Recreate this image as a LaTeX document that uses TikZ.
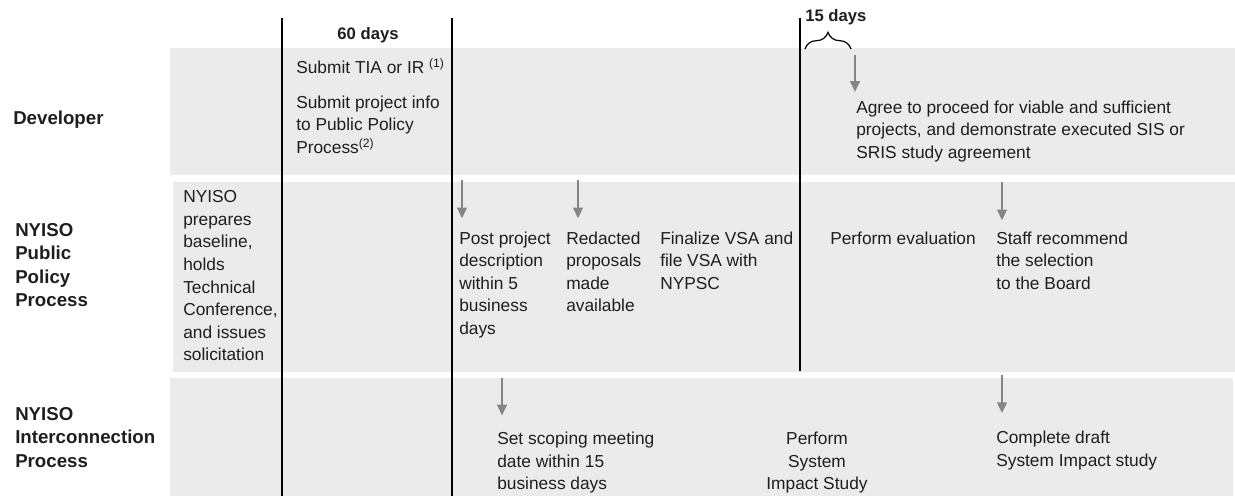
\documentclass[tikz,border=0pt]{standalone}
\usepackage{fontspec}
\setmainfont{Liberation Sans}
\usetikzlibrary{arrows.meta,decorations.pathreplacing}

\definecolor{bandgray}{HTML}{EBEBEB}
\definecolor{ink}{HTML}{1E1E1E}
\definecolor{flowgray}{HTML}{858585}

\begin{document}
\begin{tikzpicture}[
            x = 0.75pt, y = -0.75pt,
            every node/.style={inner sep=0pt, text=ink, align=left, font=\fontsize{13}{16.9}\selectfont},
            txt/.style={anchor=north west},
            lane/.style={anchor=north west, font=\bfseries\fontsize{14}{17.6}\selectfont},
            span/.style={font=\bfseries\fontsize{12.5}{15}\selectfont},
            band/.style={fill=bandgray},
            divider/.style={line width = 1.5pt},
            flow/.style={draw=flowgray, line width = 1.1pt, shorten >=10pt, -{Triangle[width=7.5pt, length=8pt]}},
            brace/.style={decorate, decoration={brace, amplitude=12.5pt}, line width = 0.9pt},
            ]
        \useasboundingbox (0, 0) rectangle (1235, 496);

        \fill[band] (170, 48) rectangle (1235, 175);
        \fill[band] (173, 182) rectangle (1235, 372);
        \fill[band] (170, 378) rectangle (1233, 496);

        \draw[divider] (282, 18) -- (282, 496);
        \draw[divider] (452, 18) -- (452, 496);
        \draw[divider] (800, 18) -- (800, 371);

        \node[lane] (dev) at (13, 111) {Developer};
        \node[lane] (pp) at (15, 223) {NYISO\\Public\\Policy\\Process};
        \node[lane] (ic) at (15, 407) {NYISO\\Interconnection\\Process};

        \node[span] (d60) at (368, 35) {60 days};
        \node[span, anchor=west] (d15) at (805, 17) {15 days};
        \draw[brace] (805, 49) -- (851, 49);

        \node[anchor=base west] (tia) at (296, 73) {Submit TIA or IR \textsuperscript{(1)}};
        \node[txt] (info) at (296, 95.5) {Submit project info\\to Public Policy\\Process\textsuperscript{(2)}};
        \node[txt] (agree) at (856, 100.5) {Agree to proceed for viable and sufficient\\projects, and demonstrate executed SIS or\\SRIS study agreement};

        \node[txt] (prep) at (183, 190.5) {NYISO\\prepares\\baseline,\\holds\\Technical\\Conference,\\and issues\\solicitation};
        \node[txt] (post) at (459, 231.5) {Post project\\description\\within 5\\business\\days};
        \node[txt] (redact) at (566, 231.5) {Redacted\\proposals\\made\\available};
        \node[txt] (vsa) at (660, 231.5) {Finalize VSA and\\file VSA with\\NYPSC};
        \node[txt] (eval) at (830, 231.5) {Perform evaluation};
        \node[txt] (staff) at (996, 231.5) {Staff recommend\\the selection\\to the Board};

        \node[txt] (scope) at (497, 432) {Set scoping meeting\\date within 15\\business days};
        \node[anchor=north, align=center] (sis) at (817, 432) {Perform\\System\\Impact Study};
        \node[txt] (draft) at (996, 431) {Complete draft\\System Impact study};

        \coordinate (aAgree) at (855, 55);
        \coordinate (aPost) at (462, 180);
        \coordinate (aRedact) at (578, 180);
        \coordinate (aStaff) at (1002, 182);
        \coordinate (aScope) at (502, 378);
        \coordinate (aDraft) at (1002, 375);

        \draw[flow, shorten >=6.5pt] (aAgree) -- (aAgree |- agree.north);
        \draw[flow] (aPost) -- (aPost |- post.north);
        \draw[flow] (aRedact) -- (aRedact |- redact.north);
        \draw[flow, shorten >=8.5pt] (aStaff) -- (aStaff |- staff.north);
        \draw[flow, shorten >=12.5pt] (aScope) -- (aScope |- scope.north);
        \draw[flow, shorten >=13.5pt] (aDraft) -- (aDraft |- draft.north);
    \end{tikzpicture}
\end{document}
